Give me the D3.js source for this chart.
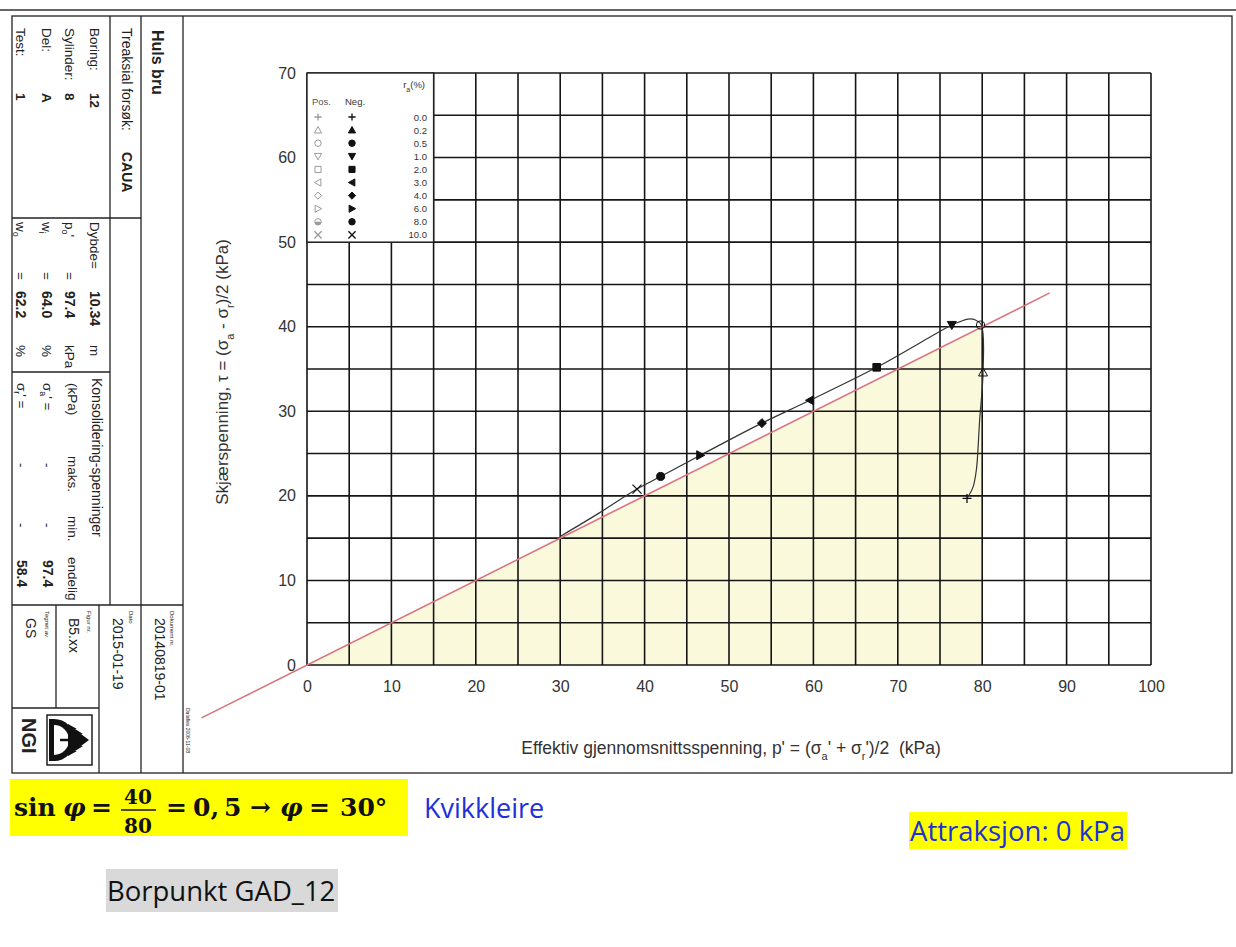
<!DOCTYPE html>
<html>
<head>
<meta charset="utf-8">
<script src="https://cdn.jsdelivr.net/npm/d3@7"></script>
<style>
    body { margin: 0; background: #fff; }
    svg { display: block; font-family: "Liberation Sans", Arial, sans-serif; }
</style>
</head>
<body>
<svg id="chart" width="1236" height="947"></svg>
<script>
// Axis ticks (kPa).
const xTicks = [0, 10, 20, 30, 40, 50, 60, 70, 80, 90, 100];
const yTicks = [0, 10, 20, 30, 40, 50, 60, 70];

// Stress path, p' and tau (kPa).
const pathP = [78.2, 78.9, 79.3, 79.7, 80.1, 79.9, 79.2, 78.3, 77.4, 76.4, 67.5, 59.6, 53.9, 46.6, 41.9, 39.1, 34.5, 30.0];
const pathT = [19.7, 21.0, 23.0, 29.0, 34.6, 40.2, 40.8, 40.9, 40.6, 40.2, 35.2, 31.3, 28.6, 24.8, 22.3, 20.8, 17.9, 15.2];

// Markers at axial strain levels along the path.
const strainLabels = ["0.0", "0.2", "0.5", "1.0", "2.0", "3.0", "4.0", "6.0", "8.0", "10.0"];
const markerP = [78.2, 80.1, 79.8, 76.4, 67.5, 59.6, 53.9, 46.6, 41.9, 39.1];
const markerT = [19.7, 34.6, 40.2, 40.2, 35.2, 31.3, 28.6, 24.8, 22.3, 20.8];
const markerOpen = [false, true, true, false, false, false, false, false, false, false];
const markerShape = ["plus", "triUp", "circle", "triDown", "square", "triLeft", "diamond", "triRight", "halfCircle", "cross"];

// Failure line (phi = 30 deg, attraction 0 kPa) and the shaded region under it.
const lineP = [-12.5, 88];
const lineT = [-6.25, 44];
const fillP = [0, 80, 80];
const fillT = [0, 40, 0];

const svg = d3.select("#chart");

const x = d3.scaleLinear().domain([0, 100]).range([307, 1151]);
const y = d3.scaleLinear().domain([0, 70]).range([665, 73]);

// Outer frame.
svg.append("line")
    .attr("x1", 0).attr("x2", 1236).attr("y1", 10).attr("y2", 10)
    .attr("stroke", "#333").attr("stroke-width", 1.5);

svg.append("rect")
    .attr("x", 12).attr("y", 16).attr("width", 1220).attr("height", 757)
    .attr("fill", "none").attr("stroke", "#222").attr("stroke-width", 1.3);

// Shaded region.
svg.append("path")
    .attr("d", d3.line()(fillP.map((p, i) => [x(p), y(fillT[i])])) + "Z")
    .attr("fill", "#fbf9dc");

// Grid every 5 kPa.
const grid = svg.append("g").attr("stroke", "#151515").attr("stroke-width", 1.6);

grid.selectAll(".gx")
    .data(x.ticks(20))
    .join("line")
    .attr("x1", d => x(d)).attr("x2", d => x(d))
    .attr("y1", y(0)).attr("y2", y(70));

grid.selectAll(".gy")
    .data(y.ticks(14))
    .join("line")
    .attr("x1", x(0)).attr("x2", x(100))
    .attr("y1", d => y(d)).attr("y2", d => y(d));

// Tick labels.
const xAxis = svg.append("g")
    .attr("transform", `translate(0,${y(0)})`)
    .call(d3.axisBottom(x).tickValues(xTicks).tickSize(0).tickPadding(16));

const yAxis = svg.append("g")
    .attr("transform", `translate(${x(0)},0)`)
    .call(d3.axisLeft(y).tickValues(yTicks).tickSize(0).tickPadding(11));

for (const axis of [xAxis, yAxis]) {
    axis.select(".domain").remove();
    axis.selectAll("text")
        .style("font-family", "'Liberation Sans', Arial, sans-serif")
        .style("font-size", "16px")
        .attr("fill", "#333");
}

// Axis titles.
const xTitle = svg.append("text")
    .attr("x", 731).attr("y", 754)
    .attr("text-anchor", "middle")
    .attr("fill", "#333")
    .style("font-size", "17.5px");
xTitle.append("tspan").text("Effektiv gjennomsnittsspenning, p' = (σ");
xTitle.append("tspan").attr("baseline-shift", "sub").style("font-size", "11px").text("a");
xTitle.append("tspan").text("' + σ");
xTitle.append("tspan").attr("baseline-shift", "sub").style("font-size", "11px").text("r");
xTitle.append("tspan").text("')/2 \u00a0(kPa)");

const yTitle = svg.append("text")
    .attr("transform", "translate(228,372) rotate(-90)")
    .attr("text-anchor", "middle")
    .attr("fill", "#333")
    .style("font-size", "17px");
yTitle.append("tspan").text("Skjærspenning, τ = (σ");
yTitle.append("tspan").attr("baseline-shift", "sub").style("font-size", "11px").text("a");
yTitle.append("tspan").text(" - σ");
yTitle.append("tspan").attr("baseline-shift", "sub").style("font-size", "11px").text("r");
yTitle.append("tspan").text(")/2 (kPa)");

// Failure line.
svg.append("path")
    .attr("d", d3.line()(lineP.map((p, i) => [x(p), y(lineT[i])])))
    .attr("fill", "none")
    .attr("stroke", "#d9737c")
    .attr("stroke-width", 1.6);

// Stress path.
svg.append("path")
    .attr("d", d3.line().curve(d3.curveCatmullRom.alpha(0.5))(pathP.map((p, i) => [x(p), y(pathT[i])])))
    .attr("fill", "none")
    .attr("stroke", "#333")
    .attr("stroke-width", 1.2);

// Marker shapes.
function shapePath(shape, s) {
    switch (shape) {
        case "plus": return `M${-s},0H${s}M0,${-s}V${s}`;
        case "cross": return `M${-s},${-s}L${s},${s}M${-s},${s}L${s},${-s}`;
        case "triUp": return `M0,${-s}L${s},${s * 0.8}L${-s},${s * 0.8}Z`;
        case "triDown": return `M0,${s}L${s},${-s * 0.8}L${-s},${-s * 0.8}Z`;
        case "triLeft": return `M${-s},0L${s * 0.8},${-s}L${s * 0.8},${s}Z`;
        case "triRight": return `M${s},0L${-s * 0.8},${-s}L${-s * 0.8},${s}Z`;
        case "square": return `M${-s * 0.85},${-s * 0.85}h${s * 1.7}v${s * 1.7}h${-s * 1.7}Z`;
        case "diamond": return `M0,${-s}L${s},0L0,${s}L${-s},0Z`;
        case "circle": return d3.symbol(d3.symbolCircle, Math.PI * s * s * 0.8)();
        case "halfCircle": return d3.symbol(d3.symbolCircle, Math.PI * s * s * 0.8)();
    }
}

function drawMarker(g, shape, cx, cy, s, open, color) {
    const lined = shape === "plus" || shape === "cross";
    g.append("path")
        .attr("transform", `translate(${cx},${cy})`)
        .attr("d", shapePath(shape, s))
        .attr("fill", lined || open ? "none" : color)
        .attr("stroke", color)
        .attr("stroke-width", lined ? 1.3 : 1);
    if (shape === "halfCircle" && open) {
        g.append("path")
            .attr("transform", `translate(${cx},${cy})`)
            .attr("d", d3.arc()({ innerRadius: 0, outerRadius: s * 0.9, startAngle: Math.PI / 2, endAngle: Math.PI * 1.5 }))
            .attr("fill", color);
    }
}

const marks = svg.append("g");
markerShape.forEach((shape, i) => {
    drawMarker(marks, shape, x(markerP[i]), y(markerT[i]), 4.5, markerOpen[i], "#111");
});

// Legend.
const lx = x(0), ly = y(70);
const legend = svg.append("g")
    .attr("transform", `translate(${lx},${ly})`)
    .style("font-size", "9.5px")
    .attr("fill", "#333");

legend.append("rect")
    .attr("width", x(15) - x(0)).attr("height", y(50) - y(70))
    .attr("fill", "#fff").attr("stroke", "#222").attr("stroke-width", 1.4);

const lt = legend.append("text").attr("x", 118).attr("y", 15).attr("text-anchor", "end");
lt.append("tspan").text("r");
lt.append("tspan").attr("baseline-shift", "sub").style("font-size", "7px").text("a");
lt.append("tspan").text("(%)");

legend.append("text").attr("x", 5).attr("y", 32).attr("fill", "#555").text("Pos.");
legend.append("text").attr("x", 38).attr("y", 32).text("Neg.");

strainLabels.forEach((label, i) => {
    const ry = 44 + i * 13.1;
    drawMarker(legend, markerShape[i], 11, ry, 3.6, true, "#9a9a9a");
    drawMarker(legend, markerShape[i], 45, ry, 3.6, false, "#111");
    legend.append("text")
        .attr("x", 120).attr("y", ry + 3.5)
        .attr("text-anchor", "end")
        .text(label);
});

// Title block on the left, rotated text.
const tb = svg.append("g").attr("stroke", "#222").attr("stroke-width", 1.3);
const blockLines = [
    [110, 16, 110, 605], [141, 16, 141, 773], [183, 16, 183, 773],
    [12, 218, 141, 218], [12, 372, 110, 372], [12, 605, 183, 605],
    [56, 605, 56, 708], [99, 605, 99, 773], [12, 708, 99, 708]
];
tb.selectAll("line")
    .data(blockLines)
    .join("line")
    .attr("x1", d => d[0]).attr("y1", d => d[1])
    .attr("x2", d => d[2]).attr("y2", d => d[3]);

const tg = svg.append("g").attr("fill", "#222");

function vtext(cx, top, parts, size, bold) {
    const t = tg.append("text")
        .attr("transform", `translate(${cx},${top}) rotate(90)`)
        .attr("dominant-baseline", "central")
        .style("font-size", size + "px")
        .style("font-weight", bold ? "bold" : "normal");
    for (const part of [].concat(parts)) {
        if (typeof part === "string") t.append("tspan").text(part);
        else t.append("tspan").attr("baseline-shift", "sub").style("font-size", (size * 0.65) + "px").text(part.sub);
    }
    return t;
}

vtext(158, 30, "Huls bru", 16, true);
vtext(127, 28, "Treaksial forsøk:", 14);
vtext(127, 152, "CAUA", 14, true);

const infoRows = [[95, "Boring:", "12"], [70, "Sylinder:", "8"], [47, "Del:", "A"], [21, "Test:", "1"]];
infoRows.forEach(([cx, label, value]) => {
    vtext(cx, 28, label, 13.5);
    vtext(cx, 93, value, 13.5, true);
});

vtext(95, 222, "Dybde=", 13.5);
vtext(95, 291, "10.34", 14, true);
vtext(95, 345, "m", 13.5);
const soilRows = [[70, ["p", { sub: "o" }, "'"], "97.4", "kPa"], [47, ["w", { sub: "i" }], "64.0", "%"], [21, ["w", { sub: "o" }], "62.2", "%"]];
soilRows.forEach(([cx, label, value, unit]) => {
    vtext(cx, 222, label, 13.5);
    vtext(cx, 272, "=", 13.5);
    vtext(cx, 291, value, 14, true);
    vtext(cx, 345, unit, 13.5);
});

vtext(97, 378, "Konsolidering-spenninger", 14);
vtext(73, 383, "(kPa)", 13.5);
vtext(73, 456, "maks.", 13.5);
vtext(73, 516, "min.", 13.5);
vtext(73, 557, "endelig", 13.5);
const consRows = [[48, ["σ", { sub: "a" }, "' ="], "97.4"], [22, ["σ", { sub: "r" }, "' ="], "58.4"]];
consRows.forEach(([cx, label, value]) => {
    vtext(cx, 383, label, 13.5);
    vtext(cx, 463, "-", 13.5);
    vtext(cx, 523, "-", 13.5);
    vtext(cx, 560, value, 14, true);
});

const footRows = [[172, 160, "Dokument nr.", "20140819-01"], [131, 118, "Dato", "2015-01-19"], [89, 74, "Figur nr.", "B5.xx"], [47, 31, "Tegnet av", "GS"]];
footRows.forEach(([lxp, vx, label, value]) => {
    vtext(lxp, 611, label, 6);
    vtext(vx, 618, value, 14);
});

vtext(188, 708, "Dataflex 2006-11-08", 5);

// NGI logo.
vtext(29, 718, "NGI", 20, true);
const logo = svg.append("g");
logo.append("rect").attr("x", 47).attr("y", 715).attr("width", 45).attr("height", 50)
    .attr("fill", "none").attr("stroke", "#111").attr("stroke-width", 1.4);
logo.append("path")
    .attr("d", "M49,719 H54 A21,21 0 0 1 54,761 H49 Z")
    .attr("fill", "#111");
logo.append("path")
    .attr("d", "M54,725 A15,15 0 0 1 54,755 Z")
    .attr("fill", "#fff");
logo.append("path")
    .attr("d", "M89,740 L81,734 L83,734 L75,729 L77,729 L68,724 L68,756 L77,751 L75,751 L83,746 L81,746 Z")
    .attr("fill", "#111");
logo.append("line").attr("x1", 60).attr("x2", 69).attr("y1", 740).attr("y2", 740)
    .attr("stroke", "#111").attr("stroke-width", 2.5);

// Annotations below the chart.
svg.append("rect").attr("x", 10).attr("y", 779).attr("width", 398).attr("height", 57).attr("fill", "#ffff00");

const mathFont = "'DejaVu Serif', 'Liberation Serif', serif";
const formula = svg.append("g")
    .style("font-family", mathFont)
    .style("font-weight", "bold")
    .attr("fill", "#111");

const formulaParts = [
    [14, "sin", "normal"], [63, "φ", "italic"], [91, "=", "normal"],
    [166, "=", "normal"], [193, "0,\u20095", "normal"], [250, "→", "normal"],
    [280, "φ", "italic"], [309, "=", "normal"], [340, "30°", "normal"]
];
formulaParts.forEach(([px, str, style]) => {
    formula.append("text")
        .attr("x", px).attr("y", 816)
        .style("font-size", "25px")
        .style("font-style", style)
        .text(str);
});
formula.append("text").attr("x", 138).attr("y", 804).attr("text-anchor", "middle").style("font-size", "20px").text("40");
formula.append("line").attr("x1", 121).attr("x2", 156).attr("y1", 810).attr("y2", 810).attr("stroke", "#111").attr("stroke-width", 1.6);
formula.append("text").attr("x", 138).attr("y", 833).attr("text-anchor", "middle").style("font-size", "20px").text("80");

const noteFont = "'Open Sans', 'Noto Sans', sans-serif";
svg.append("text")
    .attr("x", 424).attr("y", 818)
    .style("font-family", noteFont).style("font-size", "27px")
    .attr("fill", "#2030d8")
    .text("Kvikkleire");

svg.append("rect").attr("x", 909).attr("y", 812).attr("width", 218).attr("height", 37).attr("fill", "#ffff00");
svg.append("text")
    .attr("x", 910).attr("y", 841)
    .style("font-family", noteFont).style("font-size", "27.5px")
    .attr("fill", "#2030d8")
    .text("Attraksjon: 0 kPa");

svg.append("rect").attr("x", 106).attr("y", 869).attr("width", 232).attr("height", 43).attr("fill", "#d9d9d9");
svg.append("text")
    .attr("x", 107).attr("y", 901)
    .style("font-family", noteFont).style("font-size", "27.5px")
    .attr("fill", "#111")
    .text("Borpunkt GAD_12");
</script>
</body>
</html>
